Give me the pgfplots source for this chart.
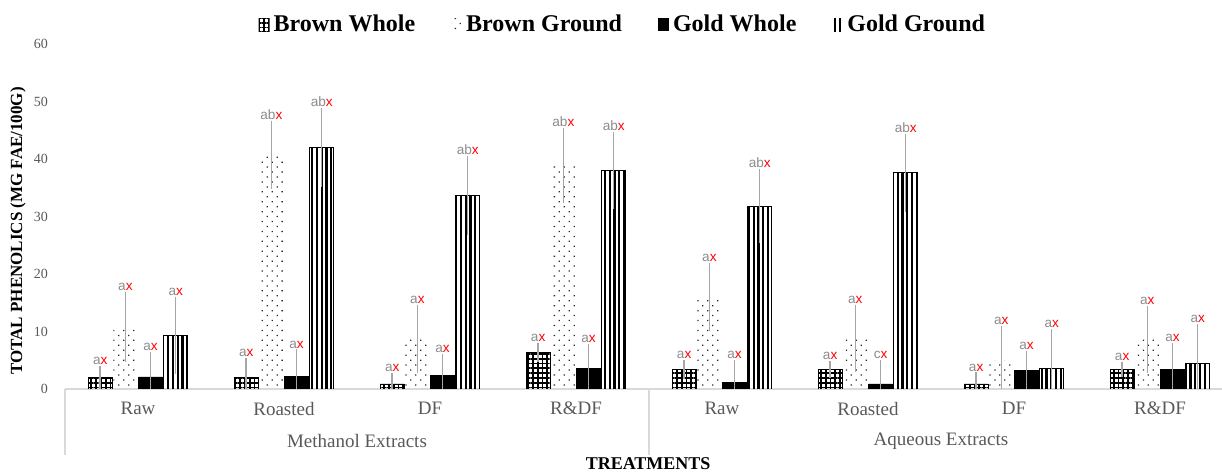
\documentclass[border=0pt]{standalone}
\usepackage{fontspec}
\setmainfont{Liberation Serif}
\newfontfamily\labfont{Liberation Sans}
\usepackage{pgfplots}
\pgfplotsset{compat=1.18}
\usepackage{pgfplotstable}
\usetikzlibrary{patterns.meta}
\definecolor{labgray}{HTML}{8C8C8C}
\definecolor{tickgray}{HTML}{595959}
\definecolor{errgray}{HTML}{A6A6A6}
\definecolor{sepgray}{HTML}{D9D9D9}

\pgfplotstableread{
x y e lab
0 2.0 1.2 a
1 2.0 2.6 a
2 0.9 1.0 a
3 6.4 0.8 a
4 3.4 0.8 a
5 3.4 0.6 a
6 0.9 1.1 a
7 3.4 0.5 a
}\BW
\pgfplotstableread{
x y e lab
0 10.8 5.2 a
1 40.7 5.1 ab
2 8.7 5.0 a
3 38.9 5.7 ab
4 16.0 5.0 a
5 8.8 5.0 a
6 4.9 5.2 a
7 8.6 5.0 a
}\BG
\pgfplotstableread{
x y e lab
0 2.1 3.5 a
1 2.2 3.8 a
2 2.3 2.9 a
3 3.6 3.3 a
4 1.15 3.0 a
5 0.9 3.3 c
6 3.3 2.4 a
7 3.4 3.7 a
}\GW
\pgfplotstableread{
x y e lab
0 9.3 5.9 a
1 42.0 6.0 ab
2 33.6 6.0 ab
3 38.0 5.8 ab
4 31.8 5.6 ab
5 37.6 5.9 ab
6 3.6 6.0 a
7 4.5 5.9 a
}\GG

\pgfplotsset{
  mybar/.style={
    error bars/.cd, y dir=both, y explicit,
    error bar style={draw=errgray, line width=0.7pt},
    error mark options={draw=errgray, line width=0.7pt, mark size=2.5pt},
    /pgfplots/.cd,
    visualization depends on={\thisrow{e} \as \err},
    point meta=explicit symbolic,
    nodes near coords={\textcolor{labgray}{\pgfplotspointmeta}\textcolor{red}{x}},
    nodes near coords style={font=\labfont\fontsize{6.8}{7}\selectfont, anchor=south, inner sep=1pt, shift={(axis direction cs:0,\err)}, yshift=2pt},
  }
}

\begin{document}
\begin{tikzpicture}
\begin{axis}[
  at={(0,0)}, anchor=south west,
  scale only axis, width=578.5pt, height=172.5pt,
  xmin=-0.5, xmax=7.425, ymin=0, ymax=60,
  ybar=0.6pt, bar width=12pt,
  axis x line=bottom, axis y line=left,
  x axis line style={draw=sepgray, line width=0.8pt, -},
  y axis line style={draw=none},
  xtick={0,...,7},
  xticklabels={Raw,Roasted,DF,R\&DF,Raw,Roasted,DF,R\&DF},
  ytick={0,10,...,60},
  major tick length=0pt,
  tick style={draw=none},
  xticklabel style={font=\fontsize{9.5}{11}\selectfont, text=tickgray, yshift=-3pt},
  yticklabel style={font=\fontsize{7}{8}\selectfont, text=tickgray, xshift=-5pt},
  /pgf/number format/assume math mode=true,
  ylabel={TOTAL PHENOLICS (MG FAE/100G)},
  ylabel style={at={(axis description cs:-0.0406,0.458)}, anchor=center, font=\bfseries\fontsize{8.5}{10}\selectfont},
  xlabel={TREATMENTS},
  xlabel style={at={(axis description cs:0.504,0)}, anchor=center, yshift=-37.5pt, font=\bfseries\fontsize{9}{10}\selectfont},
  legend style={at={(axis description cs:0.483,1.055)}, anchor=center, draw=none, fill=none, legend columns=4, font=\bfseries\fontsize{12}{14}\selectfont, /tikz/every even column/.append style={column sep=16pt}},
  legend image code/.code={\path[#1, draw=none] (0pt,-3pt) rectangle (5.5pt,3.5pt);},
]
\addplot[mybar, draw=black, line width=0.3pt, pattern={Hatch[angle=0,distance=2.4pt,line width=0.9pt]}, pattern color=black] table[x=x,y=y,y error=e,meta=lab]{\BW};
\addlegendentry{Brown Whole}
\addplot[mybar, draw=none, pattern={Dots[distance=3.5pt,radius=0.45pt,angle=45]}, pattern color=black!85] table[x=x,y=y,y error=e,meta=lab]{\BG};
\addlegendentry{Brown Ground}
\addplot[mybar, draw=black, line width=0.3pt, fill=black] table[x=x,y=y,y error=e,meta=lab]{\GW};
\addlegendentry{Gold Whole}
\addplot[mybar, draw=black, line width=0.3pt, pattern={Lines[angle=90,distance=2.4pt,line width=1.1pt]}, pattern color=black] table[x=x,y=y,y error=e,meta=lab]{\GG};
\addlegendentry{Gold Ground}
\coordinate (s1) at (axis cs:-0.5,0);
\coordinate (s2) at (axis cs:3.5,0);
\coordinate (g1) at (axis cs:1.5,0);
\coordinate (g2) at (axis cs:5.5,0);
\end{axis}
\draw[sepgray, line width=0.8pt] (s1) -- ++(0,-33pt);
\draw[sepgray, line width=0.8pt] (s2) -- ++(0,-33pt);
\node[font=\fontsize{9.5}{11}\selectfont, text=tickgray] at ([yshift=-26pt]g1) {Methanol Extracts};
\node[font=\fontsize{9.5}{11}\selectfont, text=tickgray] at ([yshift=-26pt]g2) {Aqueous Extracts};
\pgfresetboundingbox
\useasboundingbox (-32.5pt,-42.5pt) rectangle (578.5pt,194.5pt);
\end{tikzpicture}
\end{document}
